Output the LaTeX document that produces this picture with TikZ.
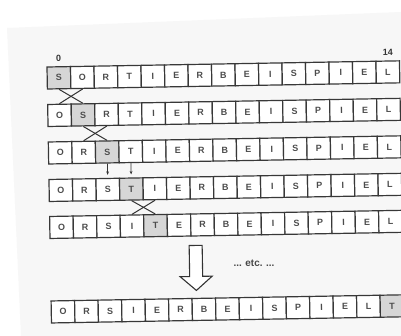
\documentclass[tikz,border=0pt]{standalone}
\usepackage{fontspec}
\setmainfont{Liberation Sans}
\usetikzlibrary{arrows.meta}
\tikzset{
  cell/.style={draw=black!78, line width=1.2pt, fill=white, minimum width=23.5pt,
    minimum height=22pt, inner sep=0pt, font=\fontsize{9}{10}\selectfont\bfseries, text=black!70},
  hl/.style={fill=black!16},
  lab/.style={font=\fontsize{9}{10}\selectfont\bfseries, text=black!80, inner sep=0pt},
  swapline/.style={draw=black!80, line width=1pt},
  movearrow/.style={draw=black!80, line width=0.8pt, -{Stealth[length=3.5pt,width=2.8pt]}, shorten >=3pt},
  hollowarrow/.style={draw=black!80, line width=1.1pt, fill=white, line join=miter},
  page/.style={fill=black!3, draw=none}
}
\newcommand\drawcellrow[4]{%
  \foreach \l [count=\i from 0] in {#3}{%
    \ifnum\i=#4\relax
      \node[cell,hl] (#1c\i) at ({58.75+23.5*\i},{#2+11}) {\l};
    \else
      \node[cell] (#1c\i) at ({58.75+23.5*\i},{#2+11}) {\l};
    \fi
  }%
}
\begin{document}
\begin{tikzpicture}[x=1pt,y=-1pt]
\useasboundingbox (0,0) rectangle (401,336);
\fill[white] (0,0) rectangle (401,336);
\path[page] (7,28) -- (401,12) -- (401,336) -- (21,336) -- cycle;
\begin{scope}[rotate around={1:(47,67)}, transform shape]
  \drawcellrow{ra}{67}{S,O,R,T,I,E,R,B,E,I,S,P,I,E,L}{0}
  \drawcellrow{rb}{104.5}{O,S,R,T,I,E,R,B,E,I,S,P,I,E,L}{1}
  \drawcellrow{rc}{142}{O,R,S,T,I,E,R,B,E,I,S,P,I,E,L}{2}
  \drawcellrow{rd}{179.5}{O,R,S,T,I,E,R,B,E,I,S,P,I,E,L}{3}
  \drawcellrow{re}{216.5}{O,R,S,I,T,E,R,B,E,I,S,P,I,E,L}{4}
  \drawcellrow{rf}{301}{O,R,S,I,E,R,B,E,I,S,P,I,E,L,T}{14}
  \node[lab] (lzero) at (58.75,58.5) {0};
  \node[lab] (lfourteen) at (388,58.5) {14};
  % swaps
  \draw[swapline] (rac0.south) -- (rbc1.north);
  \draw[swapline] (rac1.south) -- (rbc0.north);
  \draw[swapline] (rbc1.south) -- (rcc2.north);
  \draw[swapline] (rbc2.south) -- (rcc1.north);
  \draw[movearrow] (rcc2.south) -- (rdc2.north);
  \draw[movearrow] (rcc3.south) -- (rdc3.north);
  \draw[swapline] (rdc3.south) -- (rec4.north);
  \draw[swapline] (rdc4.south) -- (rec3.north);
  % big hollow arrow
  \draw[hollowarrow] (186,248) -- (199,248) -- (199,279) -- (208.5,279) -- (192.5,293)
     -- (176.5,279) -- (186,279) -- cycle;
  \node[font=\fontsize{10}{11}\selectfont\bfseries, text=black!72, inner sep=0pt] (etc) at (250.5,267)
     {...\hspace{3.5pt}etc.\hspace{3.5pt}...};
\end{scope}
\end{tikzpicture}
\end{document}
